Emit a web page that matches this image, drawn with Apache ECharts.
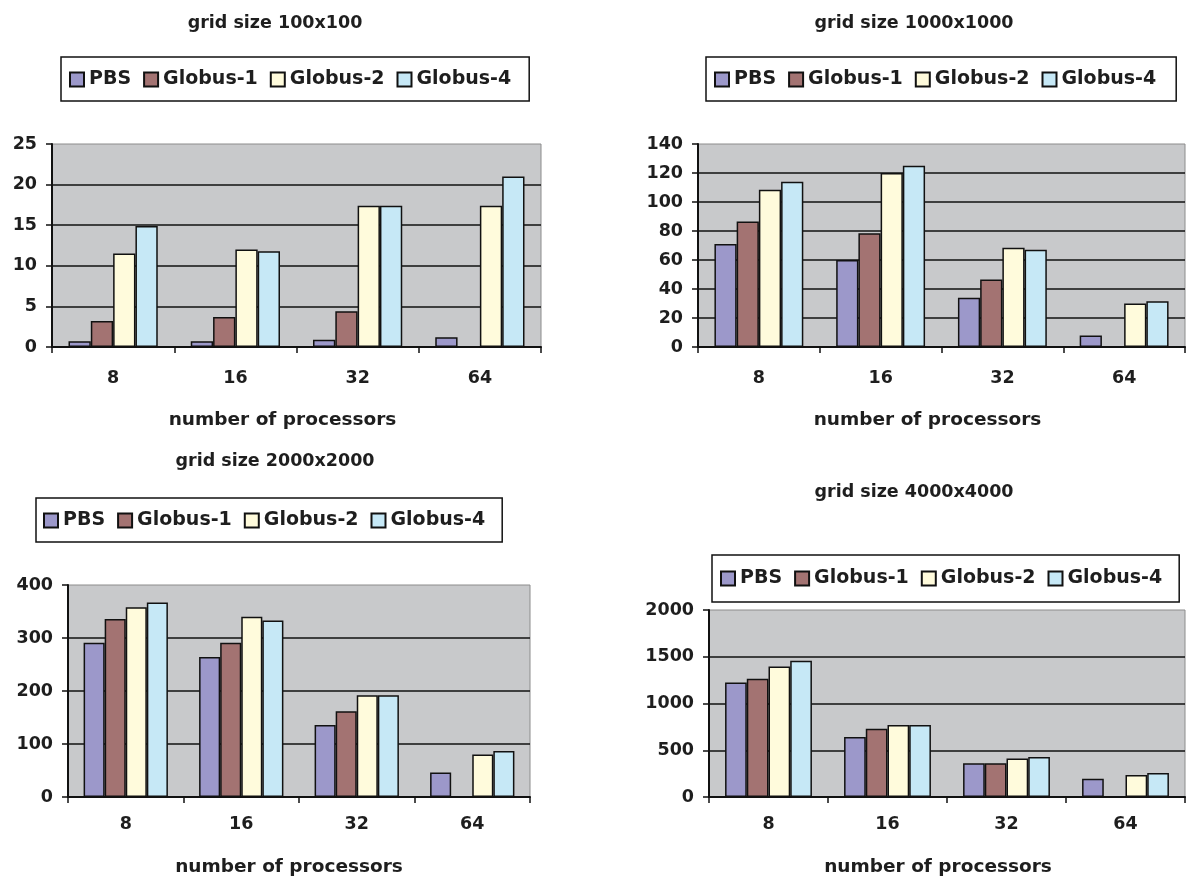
<!DOCTYPE html>
<html>
<head>
<meta charset="utf-8">
<script src="https://cdn.jsdelivr.net/npm/echarts@6/dist/echarts.min.js"></script>
<style>
html,body{margin:0;padding:0;background:#fff;}
#main{width:1187px;height:883px;}
</style>
</head>
<body>
<div id="main"></div>
<script>
// ---- data ----
const categories = ['8', '16', '32', '64'];
const seriesNames = ['PBS', 'Globus-1', 'Globus-2', 'Globus-4'];
const chartTitles = ['grid size 100x100', 'grid size 1000x1000', 'grid size 2000x2000', 'grid size 4000x4000'];
const xAxisTitle = 'number of processors';

const pbs100 = [0.7, 0.7, 0.9, 1.2];
const globus1_100 = [3.2, 3.7, 4.4, null];
const globus2_100 = [11.5, 12.0, 17.4, 17.4];
const globus4_100 = [14.9, 11.8, 17.4, 21.0];

const pbs1000 = [71, 60, 34, 8];
const globus1_1000 = [86.5, 78.5, 46.5, null];
const globus2_1000 = [108.5, 120, 68.5, 30];
const globus4_1000 = [114, 125, 67, 31.5];

const pbs2000 = [291, 264, 136, 46];
const globus1_2000 = [336, 291, 162, null];
const globus2_2000 = [358, 340, 192, 80];
const globus4_2000 = [367, 333, 192, 87];

const pbs4000 = [1225, 643, 361, 196];
const globus1_4000 = [1264, 729, 361, null];
const globus2_4000 = [1396, 771, 411, 236];
const globus4_4000 = [1457, 771, 429, 257];

const yMax = [25, 140, 400, 2000];
const yInterval = [5, 20, 100, 500];

// ---- styles / layout ----
const FONT = 'DejaVu Sans';
const TXT = '#1e1e1e';
const colors = ['#9c98ca', '#a37372', '#fffbdc', '#c6e8f6'];
const layouts = [
  {grid: {left: 52, top: 144, width: 489, height: 203}, titleX: 270, titleY: 9, legend: {left: 61, top: 57, pad: [13, 18, 12, 8]}, labelMargin: 22, nameGap: 64, nameShift: 28},
  {grid: {left: 698, top: 144, width: 487, height: 203}, titleX: 909, titleY: 9, legend: {left: 706, top: 57, pad: [13, 20, 12, 8]}, labelMargin: 22, nameGap: 64, nameShift: 28},
  {grid: {left: 68, top: 585, width: 462, height: 212}, titleX: 270, titleY: 447, legend: {left: 36, top: 498, pad: [13, 17, 12, 7]}, labelMargin: 18, nameGap: 61, nameShift: 20},
  {grid: {left: 709, top: 610, width: 476, height: 187}, titleX: 909, titleY: 478, legend: {left: 712, top: 555, pad: [14, 17, 14, 8]}, labelMargin: 18, nameGap: 61, nameShift: 18}
];

const dataSets = [
  [pbs100, globus1_100, globus2_100, globus4_100],
  [pbs1000, globus1_1000, globus2_1000, globus4_1000],
  [pbs2000, globus1_2000, globus2_2000, globus4_2000],
  [pbs4000, globus1_4000, globus2_4000, globus4_4000]
];

const option = {
  animation: false,
  backgroundColor: '#fff',
  title: [], legend: [], grid: [], xAxis: [], yAxis: [], series: []
};

layouts.forEach((L, i) => {
  option.title.push({
    text: chartTitles[i], left: L.titleX, top: L.titleY, textAlign: 'center',
    textStyle: {fontFamily: FONT, fontWeight: 'bold', fontSize: 17.5, color: TXT}
  });
  option.legend.push({
    data: seriesNames, left: L.legend.left, top: L.legend.top,
    padding: L.legend.pad, itemGap: 12, itemWidth: 14, itemHeight: 14,
    icon: 'rect', borderColor: '#111', borderWidth: 1.5, borderRadius: 0,
    selectedMode: false,
    textStyle: {fontFamily: FONT, fontWeight: 'bold', fontSize: 19, color: TXT}
  });
  option.grid.push(Object.assign({show: true, backgroundColor: '#c8c9cb', borderColor: '#8c8c8c', borderWidth: 1}, L.grid));
  option.xAxis.push({
    type: 'category', gridIndex: i, data: categories,
    axisLine: {lineStyle: {color: '#111', width: 2}},
    axisTick: {show: true, length: 6, lineStyle: {color: '#111', width: 1.5}},
    axisLabel: {margin: L.labelMargin, fontFamily: FONT, fontWeight: 'bold', fontSize: 17.5, color: TXT},
    name: xAxisTitle, nameLocation: 'middle', nameGap: L.nameGap,
    nameTextStyle: {fontFamily: FONT, fontWeight: 'bold', fontSize: 18.5, color: TXT, padding: [0, L.nameShift, 0, 0]}
  });
  option.yAxis.push({
    type: 'value', gridIndex: i, min: 0, max: yMax[i], interval: yInterval[i],
    axisLine: {show: true, lineStyle: {color: '#111', width: 2}},
    axisTick: {show: true, length: 6, lineStyle: {color: '#111', width: 1.5}},
    axisLabel: {margin: 15, fontFamily: FONT, fontWeight: 'bold', fontSize: 17.5, color: TXT, formatter: v => String(v)},
    splitLine: {show: true, showMaxLine: false, showMinLine: false, lineStyle: {color: '#111', width: 1.5}}
  });
  dataSets[i].forEach((vals, k) => {
    option.series.push({
      type: 'bar', name: seriesNames[k], xAxisIndex: i, yAxisIndex: i,
      data: vals, barGap: '0%', barCategoryGap: '27%',
      itemStyle: {color: colors[k], borderColor: '#111', borderWidth: 1.5}
    });
  });
});

const chart = echarts.init(document.getElementById('main'), null, {renderer: 'canvas'});
chart.setOption(option);
</script>
</body>
</html>
